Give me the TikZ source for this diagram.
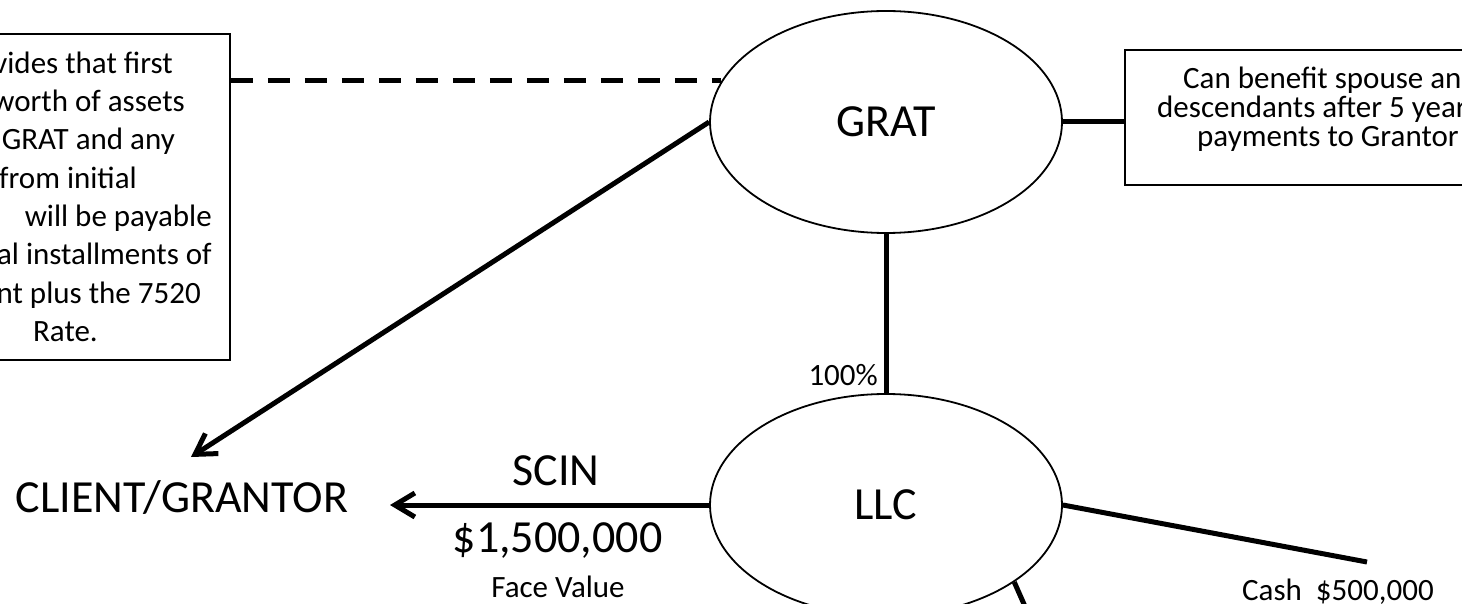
\documentclass[tikz,border=0pt]{standalone}
\usepackage{fontspec}
\setmainfont{Carlito}
\usetikzlibrary{arrows.meta,shapes.geometric}
\begin{document}
\begin{tikzpicture}[x=1pt,y=-1pt,
  conn/.style={line width=5pt},
  oval/.style={ellipse, draw, line width=1.8pt, minimum width=352pt, minimum height=222pt, inner sep=0pt, font=\fontsize{46}{50}\selectfont},
  bigtxt/.style={font=\fontsize{46}{50}\selectfont, inner sep=0pt},
  boxtxt/.style={font=\fontsize{31}{36}\selectfont, inner sep=0pt},
  smalltxt/.style={font=\fontsize{31}{36}\selectfont, inner sep=0pt},
  notebox/.style={draw, line width=1.8pt, rectangle, inner sep=0pt},
  tip/.style={-{Straight Barb[length=20pt,width=24pt]}}
]
\useasboundingbox (0,0) rectangle (1462,604);
\clip (0,0) rectangle (1462,604);
\fill[white] (0,0) rectangle (1462,604);

% boxes
\node[notebox, minimum width=430pt, minimum height=326pt] (leftbox) at (15,197) {};
\node[notebox, minimum width=404pt, minimum height=135pt] (rightbox) at (1327,117.5) {};

% left box text
\node[boxtxt, anchor=base east] (l1) at (173,73.5) {vides that first};
\node[boxtxt, anchor=base east] (l2) at (185,111.8) {worth of assets};
\node[boxtxt, anchor=base east] (l3) at (175,150) {GRAT and any};
\node[boxtxt, anchor=base east] (l4) at (137,188.3) {from initial};
\node[boxtxt, anchor=base east] (l5) at (212,226.6) {will be payable};
\node[boxtxt, anchor=base east] (l6) at (212,265) {al installments of};
\node[boxtxt, anchor=base east] (l7) at (201,303) {nt plus the 7520};
\node[boxtxt, anchor=base east] (l8) at (98,341.6) {Rate.};

% right box text
\node[boxtxt, anchor=base west] (r1) at (1183,89) {Can benefit spouse and};
\node[boxtxt, anchor=base west] (r2) at (1157,118) {descendants after 5 years};
\node[boxtxt, anchor=base west] (r3) at (1197,147) {payments to Grantor};

% ovals
\node[oval] (GRAT) at (886,122) {GRAT};
\node[oval] (LLC) at (886,505) {LLC};

% client
\node[bigtxt] (client) at (182,498) {CLIENT/GRANTOR};

% free ends
\coordinate (clientTip) at (191,457);
\coordinate (scinTip) at (390,505);
\coordinate (cashEnd) at (1367,562);
\coordinate (lowEnd) at (1031,620);

% connectors
\draw[conn, dash pattern=on 22pt off 15pt] (leftbox.east |- GRAT.166) -- (GRAT.166);
\draw[conn] (GRAT.east) -- (GRAT.east -| rightbox.west);
\draw[conn] (GRAT.south) -- (LLC.north);
\draw[conn, tip] (GRAT.west) -- (clientTip);
\draw[conn, tip] (LLC.west) -- (scinTip);
\draw[conn] (LLC.east) -- (cashEnd);
\draw[conn] (LLC.-31.8) -- (lowEnd);

% labels
\node[smalltxt, anchor=base east] (pct) at (878,385) {100\%};
\node[bigtxt, anchor=base] (scin) at (556,485) {SCIN};
\node[bigtxt, anchor=base] (face) at (557.5,552) {\$1,500,000};
\node[smalltxt, anchor=base] (facev) at (558,597) {Face Value};
\node[smalltxt, anchor=base west] (cash) at (1242,600) {Cash\ \ \$500,000};
\end{tikzpicture}
\end{document}
